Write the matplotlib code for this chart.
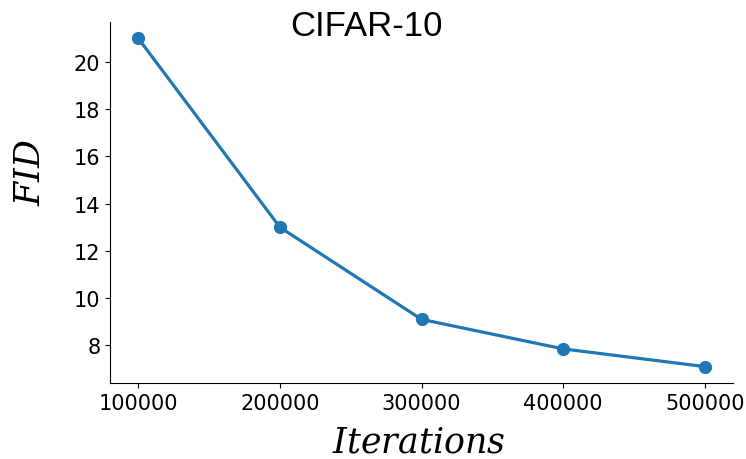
import matplotlib
matplotlib.use("Agg")
import matplotlib.pyplot as plt

iterations = [100000, 200000, 300000, 400000, 500000]
fid = [21.0, 13.0, 9.1, 7.85, 7.1]

plt.rcParams['mathtext.fontset'] = 'dejavuserif'

fig = plt.figure(figsize=(7.46, 4.6), dpi=100)
ax = fig.add_axes([110/746, 1-384/460, (733-110)/746, (384-23)/460])
ax.plot(iterations, fid, marker='o', color='#1f77b4', linewidth=2.3, markersize=8.5)

ax.set_xticks(iterations)
ax.set_yticks([8, 10, 12, 14, 16, 18, 20])
ax.tick_params(labelsize=15)
ax.spines['top'].set_visible(False)
ax.spines['right'].set_visible(False)

fig.text(366/746, 1-36/460, 'CIFAR-10', fontsize=25, family='Liberation Sans',
         ha='center', va='baseline')
fig.text(419/746, 1-453/460, r'$Iterations$', fontsize=25, ha='center', va='baseline')
fig.text(30/746, 1-172/460, r'$FID$', fontsize=25, ha='center', va='center', rotation=90)

plt.savefig("out.png", dpi=100)
